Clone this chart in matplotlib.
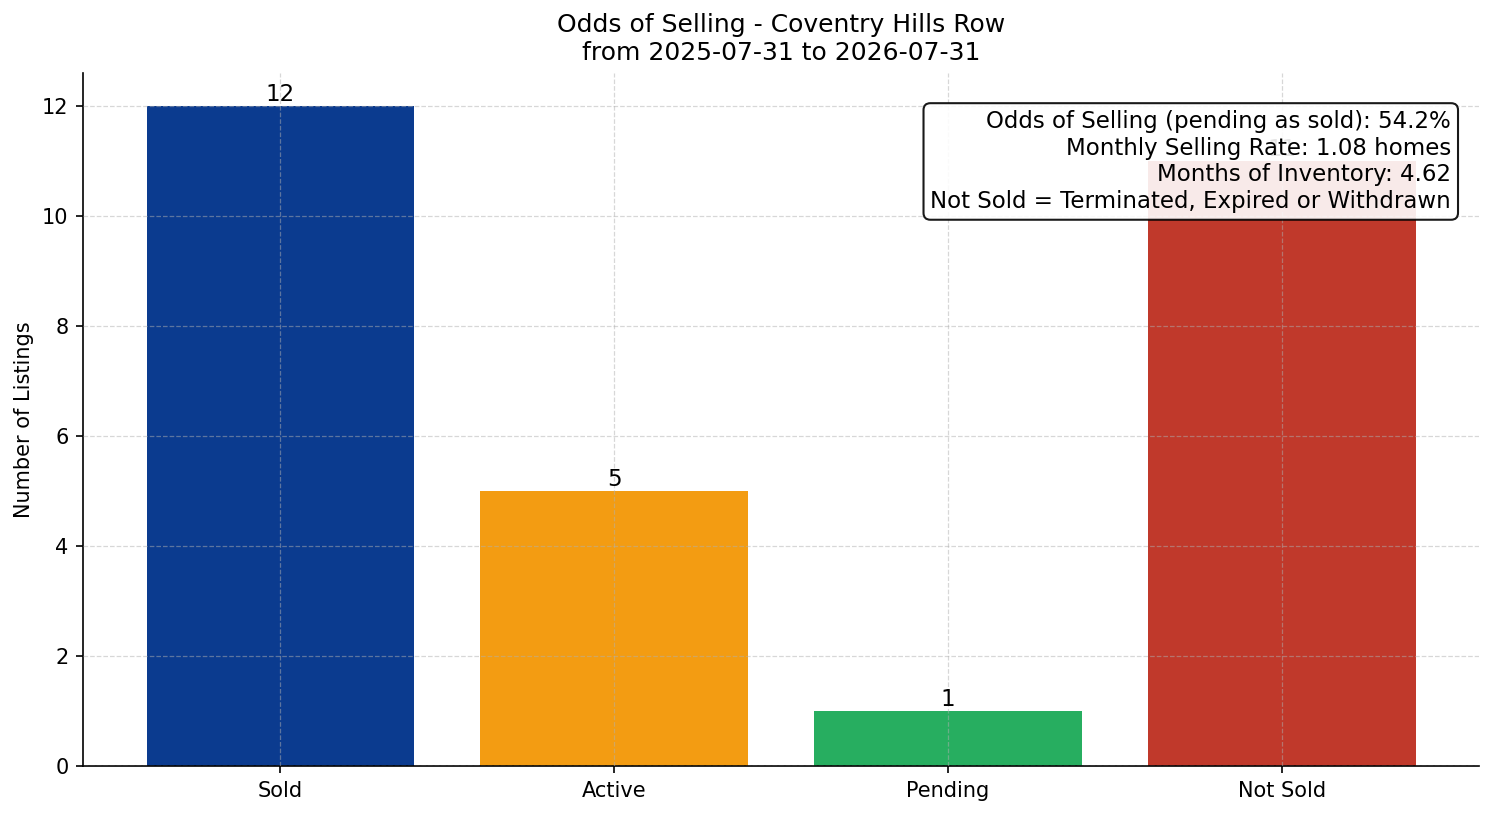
import matplotlib
matplotlib.use('Agg')
import matplotlib.pyplot as plt

categories = ['Sold', 'Active', 'Pending', 'Not Sold']
counts = [12, 5, 1, 11]
colors = ['#0B3B8F', '#F39C12', '#27AE60', '#C0392B']

stats_lines = [
    'Odds of Selling (pending as sold): 54.2%',
    'Monthly Selling Rate: 1.08 homes',
    'Months of Inventory: 4.62',
    'Not Sold = Terminated, Expired or Withdrawn',
]

fig, ax = plt.subplots(figsize=(9.96, 5.44), dpi=150)
fig.subplots_adjust(left=0.0556, right=0.990, top=0.911, bottom=0.0613)

bars = ax.bar(categories, counts, color=colors, width=0.8)
for b, v in zip(bars, counts):
    ax.text(b.get_x() + b.get_width() / 2, v, str(v), ha='center', va='bottom', fontsize=11)

ax.set_ylim(0, max(counts) * 1.05)
ax.set_ylabel('Number of Listings', fontsize=10)
ax.set_title('Odds of Selling - Coventry Hills Row\nfrom 2025-07-31 to 2026-07-31', fontsize=12)
ax.grid(True, linestyle='--', linewidth=0.6, alpha=0.5, color='#b0b0b0')
ax.set_axisbelow(False)
ax.spines['top'].set_visible(False)
ax.spines['right'].set_visible(False)
ax.tick_params(labelsize=10)

ax.text(0.98, 0.946, '\n'.join(stats_lines), transform=ax.transAxes,
        ha='right', va='top', fontsize=11, zorder=5,
        bbox=dict(boxstyle='round,pad=0.3', facecolor='white', edgecolor='black', alpha=0.9))

fig.savefig('out.png', dpi=150)
